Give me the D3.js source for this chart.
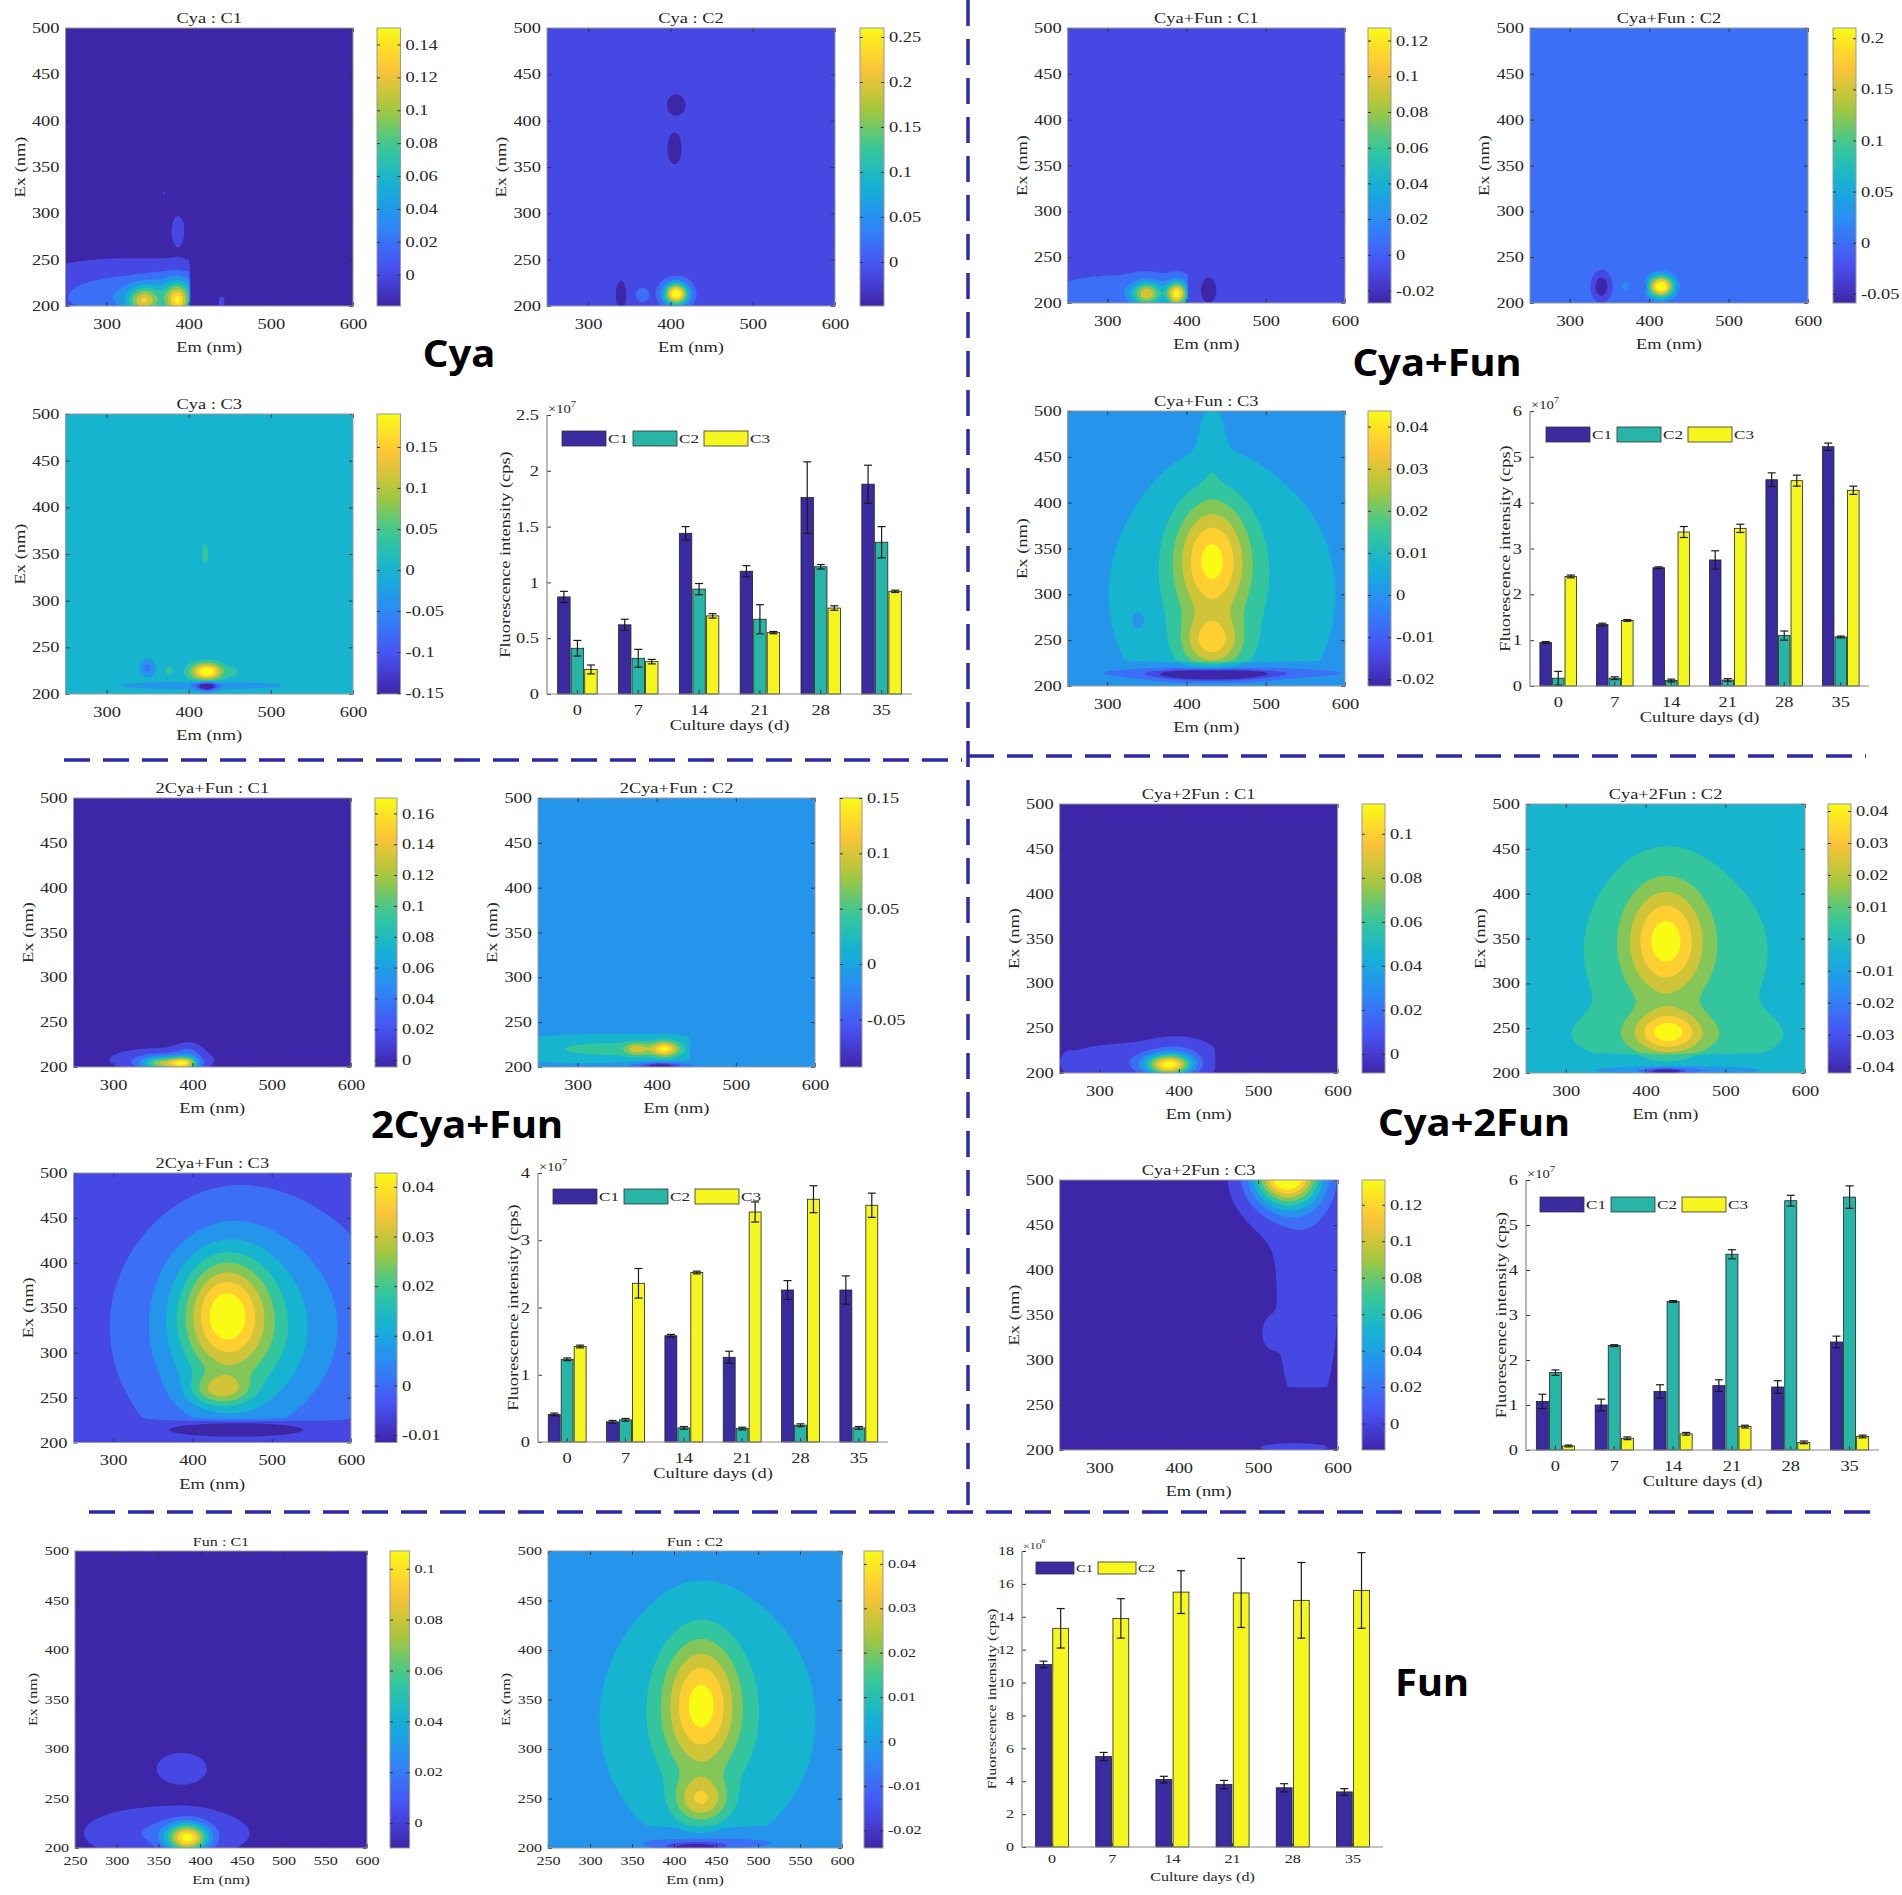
<!DOCTYPE html>
<html lang="en">
<head>
<meta charset="UTF-8">
<title>EEM components and fluorescence intensity</title>
<script src="https://cdn.jsdelivr.net/npm/d3@7/dist/d3.min.js"></script>
<style>
    body { margin: 0; background: #fff; }
    svg text { font-family: "Liberation Serif", "Times New Roman", serif; fill: #262626; }
    svg text.group-label { font-family: "Noto Sans", "Open Sans", sans-serif; font-weight: 700; fill: #000; }
</style>
</head>
<body>
<script>
    const [width, height] = [1902, 1895]

    // parula colour map (MATLAB), 8 stops
    const parulaStops = ['#3e26a8', '#4852f4', '#2e87f7', '#12b1d6', '#37c897', '#abc739', '#fec338', '#f9fb15']

    // ---- EEM maps: colour-bar limits, flat background level, colour-bar ticks, peaks
    // peak = [Em, Ex, amplitude, sigmaEm, sigmaEx, EmMax, ExMin]
    const cyaC1Lim = [-0.019, 0.150], cyaC1Base = -0.01
    const cyaC1Ticks = [0, 0.02, 0.04, 0.06, 0.08, 0.1, 0.12, 0.14]
    const cyaC1Peaks = [[320, 210, 0.035, 80, 24, 400], [360, 208, 0.03, 30, 12, 400], [390, 225, 0.02, 25, 12, 400],
        [345, 205, 0.07, 12, 10, 400], [387, 205, 0.1, 10, 12, 400], [387, 282, 0.014, 7, 14], [370, 322, 0.01, 2, 4],
        [440, 205, 0.012, 4, 6]]

    const cyaC2Lim = [-0.049, 0.26], cyaC2Base = 0
    const cyaC2Ticks = [0, 0.05, 0.1, 0.15, 0.2, 0.25]
    const cyaC2Peaks = [[407, 213, 0.27, 10, 8], [366, 212, 0.03, 6, 6], [340, 212, -0.06, 4, 10],
        [405, 370, -0.05, 6, 12], [407, 417, -0.05, 8, 8]]

    const cyaC3Lim = [-0.151, 0.19], cyaC3Base = 0
    const cyaC3Ticks = [-0.15, -0.1, -0.05, 0, 0.05, 0.1, 0.15]
    const cyaC3Peaks = [[422, 224, 0.2, 13, 6], [350, 228, -0.06, 6, 6], [376, 225, 0.035, 4, 4], [455, 224, 0.03, 4, 4],
        [415, 209, -0.05, 65, 2.5], [422, 208, -0.16, 8, 3], [420, 350, 0.05, 2.5, 8]]

    const cyaFunC1Lim = [-0.027, 0.127], cyaFunC1Base = 0
    const cyaFunC1Ticks = [-0.02, 0, 0.02, 0.04, 0.06, 0.08, 0.1, 0.12]
    const cyaFunC1Peaks = [[320, 212, 0.012, 60, 12, 402], [350, 210, 0.085, 13, 9, 402], [388, 210, 0.115, 9, 9, 402],
        [428, 214, -0.03, 7, 10]]

    const cyaFunC2Lim = [-0.059, 0.21], cyaFunC2Base = 0
    const cyaFunC2Ticks = [-0.05, 0, 0.05, 0.1, 0.15, 0.2]
    const cyaFunC2Peaks = [[415, 218, 0.22, 11, 8], [340, 218, -0.07, 6, 8], [370, 218, 0.03, 4, 6], [395, 218, -0.04, 2, 3]]

    const cyaFunC3Lim = [-0.0216, 0.0437], cyaFunC3Base = 0
    const cyaFunC3Ticks = [-0.02, -0.01, 0, 0.01, 0.02, 0.03, 0.04]
    const cyaFunC3Peaks = [[445, 300, 0.0105, 110, 110, 999, 226], [432, 338, 0.03, 32, 45], [432, 247, 0.022, 26, 20],
        [432, 470, 0.006, 10, 30], [432, 212, -0.035, 40, 4], [445, 214, -0.012, 80, 3], [340, 272, -0.006, 5, 6]]

    const twoCyaFunC1Lim = [-0.0045, 0.17], twoCyaFunC1Base = 0
    const twoCyaFunC1Ticks = [0, 0.02, 0.04, 0.06, 0.08, 0.1, 0.12, 0.14, 0.16]
    const twoCyaFunC1Peaks = [[360, 208, 0.03, 50, 10], [395, 218, 0.02, 12, 8], [362, 204, 0.09, 18, 5], [390, 204, 0.11, 12, 5]]

    const twoCyaFunC2Lim = [-0.093, 0.15], twoCyaFunC2Base = 0
    const twoCyaFunC2Ticks = [-0.05, 0, 0.05, 0.1, 0.15]
    const twoCyaFunC2Peaks = [[345, 220, 0.04, 75, 8, 440], [375, 220, 0.06, 10, 5], [410, 220, 0.11, 12, 6],
        [405, 201, -0.07, 18, 2.5], [405, 201, -0.03, 40, 2.5]]

    const twoCyaFunC3Lim = [-0.0115, 0.0428], twoCyaFunC3Base = -0.004
    const twoCyaFunC3Ticks = [-0.01, 0, 0.01, 0.02, 0.03, 0.04]
    const twoCyaFunC3Peaks = [[475, 330, 0.013, 105, 85, 999, 225], [455, 320, 0.011, 60, 75, 999, 226], [440, 345, 0.024, 36, 42],
        [435, 258, 0.016, 26, 12], [455, 214, -0.02, 40, 3.5]]

    const cya2FunC1Lim = [-0.0086, 0.1135], cya2FunC1Base = 0
    const cya2FunC1Ticks = [0, 0.02, 0.04, 0.06, 0.08, 0.1]
    const cya2FunC1Peaks = [[345, 213, 0.012, 60, 13, 447], [388, 209, 0.1, 20, 8], [262, 210, 0.008, 4, 7], [400, 225, 0.01, 25, 10, 447]]

    const cya2FunC2Lim = [-0.042, 0.0422], cya2FunC2Base = -0.004
    const cya2FunC2Ticks = [-0.04, -0.03, -0.02, -0.01, 0, 0.01, 0.02, 0.03, 0.04]
    const cya2FunC2Peaks = [[440, 335, 0.009, 90, 75, 999, 222], [440, 240, 0.008, 90, 20, 999, 222], [425, 348, 0.034, 33, 42],
        [428, 245, 0.03, 28, 16], [440, 203, -0.016, 65, 3], [425, 201, -0.035, 15, 2.5]]

    const cya2FunC3Lim = [-0.0145, 0.1336], cya2FunC3Base = -0.006
    const cya2FunC3Ticks = [0, 0.02, 0.04, 0.06, 0.08, 0.1, 0.12]
    const cya2FunC3Peaks = [[535, 508, 0.135, 28, 24], [545, 495, 0.02, 40, 35], [562, 380, 0.013, 32, 120, 999, 268],
        [545, 203, 0.012, 38, 4], [515, 330, 0.008, 8, 12]]

    const funC1Lim = [-0.0098, 0.107], funC1Base = 0
    const funC1Ticks = [0, 0.02, 0.04, 0.06, 0.08, 0.1]
    const funC1Peaks = [[378, 280, 0.009, 17, 9], [360, 215, 0.016, 48, 13], [385, 210, 0.09, 17, 10]]

    const funC2Lim = [-0.024, 0.0429], funC2Base = 0
    const funC2Ticks = [-0.02, -0.01, 0, 0.01, 0.02, 0.03, 0.04]
    const funC2Peaks = [[440, 330, 0.01, 80, 80, 999, 222], [432, 345, 0.03, 30, 45], [432, 248, 0.022, 22, 16],
        [440, 205, -0.009, 60, 4], [425, 200, -0.025, 22, 3]]

    // ---- bar charts (x10^7 cps, Fun x10^6 cps)
    const days = ['0', '7', '14', '21', '28', '35']
    const cyaMeans = [[0.87, 0.62, 1.44, 1.10, 1.76, 1.88], [0.41, 0.32, 0.94, 0.67, 1.14, 1.36], [0.22, 0.29, 0.70, 0.55, 0.77, 0.92]]
    const cyaErrs = [[0.05, 0.05, 0.06, 0.05, 0.32, 0.17], [0.07, 0.08, 0.05, 0.13, 0.02, 0.14], [0.04, 0.02, 0.02, 0.01, 0.02, 0.01]]
    const cyaFunMeans = [[0.95, 1.34, 2.58, 2.75, 4.50, 5.22], [0.17, 0.17, 0.12, 0.13, 1.10, 1.07], [2.39, 1.43, 3.36, 3.44, 4.48, 4.27]]
    const cyaFunErrs = [[0.02, 0.03, 0.02, 0.20, 0.15, 0.08], [0.15, 0.03, 0.03, 0.03, 0.10, 0.02], [0.03, 0.02, 0.12, 0.09, 0.12, 0.09]]
    const twoCyaFunMeans = [[0.41, 0.30, 1.58, 1.26, 2.26, 2.26], [1.23, 0.33, 0.21, 0.20, 0.25, 0.21], [1.42, 2.36, 2.52, 3.42, 3.61, 3.52]]
    const twoCyaFunErrs = [[0.02, 0.02, 0.02, 0.09, 0.14, 0.21], [0.02, 0.02, 0.02, 0.02, 0.02, 0.02], [0.02, 0.22, 0.02, 0.15, 0.20, 0.18]]
    const cya2FunMeans = [[1.08, 1.00, 1.30, 1.43, 1.40, 2.40], [1.72, 2.32, 3.30, 4.35, 5.54, 5.62], [0.09, 0.26, 0.36, 0.52, 0.17, 0.30]]
    const cya2FunErrs = [[0.16, 0.13, 0.15, 0.13, 0.14, 0.13], [0.06, 0.02, 0.02, 0.10, 0.12, 0.25], [0.02, 0.03, 0.03, 0.03, 0.03, 0.03]]
    const funMeans = [[11.1, 5.5, 4.1, 3.8, 3.6, 3.35], [13.3, 13.9, 15.5, 15.45, 15.0, 15.6]]
    const funErrs = [[0.2, 0.25, 0.2, 0.25, 0.25, 0.2], [1.2, 1.2, 1.3, 2.1, 2.3, 2.3]]

    const barColors = { C1: '#3b2ba0', C2: '#26b5a7', C3: '#f5f61e' }

    const svg = d3.select('body').append('svg').attr('width', width).attr('height', height)
    const defs = svg.append('defs')
    const parula = d3.piecewise(d3.interpolateRgb, parulaStops)
    const clamp = (v, a, b) => Math.max(a, Math.min(b, v))

    // the figure's serif text is wide: stretch it along the reading direction
    const font = small => small ? { fs: 11.5, k: 1.4 } : { fs: 14.5, k: 1.27 }
    const label = (x, y, str, f, { anchor = 'middle', rotate = 0 } = {}) =>
        svg.append('text').attr('transform', `translate(${x},${y}) rotate(${rotate}) scale(${f.k},1)`)
            .attr('text-anchor', anchor).style('font-size', f.fs + 'px').text(str)

    const grad = defs.append('linearGradient').attr('id', 'parula-grad')
        .attr('x1', 0).attr('y1', 1).attr('x2', 0).attr('y2', 0)
    d3.range(0, 1.0001, 0.05).forEach(t => grad.append('stop').attr('offset', t).attr('stop-color', parula(t)))

    const gridStep = 2.5
    const emGrid = d3.range(250, 600.001, gridStep)
    const exGrid = d3.range(200, 500.001, gridStep)
    const field = (base, peaks) => {
        const values = new Float64Array(emGrid.length * exGrid.length)
        exGrid.forEach((ex, j) => emGrid.forEach((em, i) => {
            let z = base
            peaks.forEach(([pe, px, a, se, sx, emMax = Infinity, exMin = -Infinity]) => {
                if (em > emMax || ex < exMin) return
                const u = (em - pe) / se, v = (ex - px) / sx
                z += a * Math.exp(-(u * u + v * v) / 2)
            })
            values[j * emGrid.length + i] = z
        }))
        return values
    }

    const styleAxis = (g, f) => {
        g.attr('font-family', null).attr('font-size', null)
        g.selectAll('text').style('font-size', f.fs + 'px').attr('transform', `scale(${f.k},1)`)
        g.selectAll('line').attr('stroke', '#333')
        g.select('.domain').remove()
    }

    const drawMap = (m, idx) => {
        const [bx, by, bw, bh] = m.box
        const [cx, cw] = m.cbar
        const f = font(m.small)
        const x = d3.scaleLinear().domain([250, 600]).range([bx, bx + bw])
        const y = d3.scaleLinear().domain([200, 500]).range([by + bh, by])
        const [lo, hi] = m.lim
        const nBands = 10
        const levels = d3.range(1, nBands).map(k => lo + k * (hi - lo) / nBands)
        const contours = d3.contours().size([emGrid.length, exGrid.length]).thresholds(levels)(field(m.base, m.peaks))
        const toPx = ([gx, gy]) => [x(clamp(250 + (gx - 0.5) * gridStep, 250, 600)), y(clamp(200 + (gy - 0.5) * gridStep, 200, 500))]
        const path = d3.geoPath()

        defs.append('clipPath').attr('id', 'clip' + idx).append('rect')
            .attr('x', bx).attr('y', by).attr('width', bw).attr('height', bh)
        const g = svg.append('g').attr('clip-path', `url(#clip${idx})`)
        g.append('rect').attr('x', bx).attr('y', by).attr('width', bw).attr('height', bh).attr('fill', parula(0))
        g.selectAll('path').data(contours).join('path')
            .attr('d', c => path({ type: 'MultiPolygon', coordinates: c.coordinates.map(poly => poly.map(ring => ring.map(toPx))) }))
            .attr('fill', (c, k) => parula((k + 1) / (nBands - 1)))
            .attr('fill-rule', 'evenodd')

        const xTicks = m.small ? d3.range(250, 601, 50) : [300, 400, 500, 600]
        const yTicks = d3.range(200, 501, 50)
        svg.append('g').attr('transform', `translate(0,${by + bh})`)
            .call(d3.axisBottom(x).tickValues(xTicks).tickSizeInner(-4).tickSizeOuter(0).tickPadding(m.small ? 9 : 12.5))
            .call(g => styleAxis(g, f))
        svg.append('g').attr('transform', `translate(${bx},0)`)
            .call(d3.axisLeft(y).tickValues(yTicks).tickSizeInner(-4).tickSizeOuter(0).tickPadding(6 / f.k))
            .call(g => styleAxis(g, f))
        svg.append('g').attr('transform', `translate(0,${by})`)
            .call(d3.axisTop(x).tickValues(xTicks).tickSizeInner(-4).tickSizeOuter(0).tickFormat(''))
            .call(g => styleAxis(g, f))
        svg.append('g').attr('transform', `translate(${bx + bw},0)`)
            .call(d3.axisRight(y).tickValues(yTicks).tickSizeInner(-4).tickSizeOuter(0).tickFormat(''))
            .call(g => styleAxis(g, f))
        svg.append('rect').attr('x', bx).attr('y', by).attr('width', bw).attr('height', bh)
            .attr('fill', 'none').attr('stroke', '#9a9a9a').attr('stroke-width', 1)

        label(bx + bw / 2, by - 5, m.title, f)
        label(bx + bw / 2, by + bh + (m.small ? 36 : 46), 'Em (nm)', f)
        label(bx - (m.small ? 38 : 41), by + bh / 2, 'Ex (nm)', f, { rotate: -90 })

        // colour bar
        const c = d3.scaleLinear().domain(m.lim).range([by + bh, by])
        svg.append('rect').attr('x', cx).attr('y', by).attr('width', cw).attr('height', bh)
            .attr('fill', 'url(#parula-grad)').attr('stroke', '#9a9a9a').attr('stroke-width', 1)
        svg.append('g').attr('transform', `translate(${cx + cw},0)`)
            .call(d3.axisRight(c).tickValues(m.ticks).tickSizeInner(-3).tickSizeOuter(0).tickPadding(5 / f.k).tickFormat(v => `${v}`))
            .call(g => styleAxis(g, f))
        svg.append('g').attr('transform', `translate(${cx},0)`)
            .call(d3.axisLeft(c).tickValues(m.ticks).tickSizeInner(-3).tickSizeOuter(0).tickFormat(''))
            .call(g => styleAxis(g, f))
    }

    const drawBars = (b) => {
        const [bx, by, bw, bh] = b.box
        const f = font(b.small)
        const names = b.means.length === 3 ? ['C1', 'C2', 'C3'] : ['C1', 'C2']
        const fill = b.means.length === 3 ? names.map(n => barColors[n]) : [barColors.C1, barColors.C3]
        const x = d3.scaleBand().domain(days).range([bx, bx + bw]).padding(0)
        const groupW = x.bandwidth() * Math.min(0.8, names.length / (names.length + 1.5))
        const xs = d3.scaleBand().domain(names).range([0, groupW]).padding(0)
        const y = d3.scaleLinear().domain([0, b.ymax]).range([by + bh, by])
        const barW = xs.bandwidth() * 0.92
        const g = svg.append('g')
        names.forEach((n, s) => {
            const cx = d => x(d) + (x.bandwidth() - groupW) / 2 + xs(n) + xs.bandwidth() / 2
            g.selectAll(null).data(days).join('rect')
                .attr('x', d => cx(d) - barW / 2).attr('width', barW)
                .attr('y', (d, i) => y(b.means[s][i])).attr('height', (d, i) => y(0) - y(b.means[s][i]))
                .attr('fill', fill[s]).attr('stroke', '#222').attr('stroke-width', 0.8)
            const eb = g.selectAll(null).data(days).join('g').attr('stroke', '#1a1a1a').attr('stroke-width', 1.2)
            eb.append('line').attr('x1', d => cx(d)).attr('x2', d => cx(d))
                .attr('y1', (d, i) => y(b.means[s][i] - b.errs[s][i])).attr('y2', (d, i) => y(b.means[s][i] + b.errs[s][i]))
            ;[-1, 1].forEach(sg => eb.append('line')
                .attr('x1', d => cx(d) - 4).attr('x2', d => cx(d) + 4)
                .attr('y1', (d, i) => y(b.means[s][i] + sg * b.errs[s][i])).attr('y2', (d, i) => y(b.means[s][i] + sg * b.errs[s][i])))
        })
        svg.append('g').attr('transform', `translate(0,${by + bh})`)
            .call(d3.axisBottom(x).tickSizeInner(-4).tickSizeOuter(0).tickPadding(b.small ? 8 : 10.5))
            .call(g => styleAxis(g, f))
        svg.append('g').attr('transform', `translate(${bx},0)`)
            .call(d3.axisLeft(y).tickValues(b.ticks).tickSizeInner(-4).tickSizeOuter(0).tickPadding(8 / f.k).tickFormat(v => `${v}`))
            .call(g => styleAxis(g, f))
        svg.append('path').attr('d', `M${bx},${by}V${by + bh}H${bx + bw}`)
            .attr('fill', 'none').attr('stroke', '#8a8a8a').attr('stroke-width', 1.2)

        const exp = svg.append('text').attr('transform', `translate(${bx + 1},${by - 2}) scale(${f.k},1)`)
            .style('font-size', (f.fs - 3) + 'px').text('×10')
        exp.append('tspan').attr('dy', -6).style('font-size', (f.fs - 6) + 'px').text(b.exp)

        const maxLabel = d3.max(b.ticks, v => `${v}`.length)
        label(bx - (b.small ? 10 : 12) - maxLabel * (b.small ? 8 : 8.5), by + bh / 2, 'Fluorescence intensity (cps)', f, { rotate: -90 })
        label(bx + bw / 2, by + bh + (b.small ? 34 : 36), 'Culture days (d)', f)

        // legend
        const [sw, sh, step] = b.small ? [38, 12, 62] : [44, 15, 71]
        const lg = svg.append('g').attr('transform', `translate(${bx + b.legend[0]},${by + b.legend[1]})`)
        names.forEach((n, i) => {
            lg.append('rect').attr('x', i * step).attr('y', 0).attr('width', sw).attr('height', sh)
                .attr('fill', fill[i]).attr('stroke', '#333').attr('stroke-width', 0.8)
            lg.append('text').attr('transform', `translate(${i * step + sw + 2},${sh / 2}) scale(${f.k},1)`).attr('dy', '0.35em')
                .style('font-size', (f.fs - 1) + 'px').text(n)
        })
    }

    const maps = [
        { title: 'Cya : C1', lim: cyaC1Lim, base: cyaC1Base, ticks: cyaC1Ticks, peaks: cyaC1Peaks, box: [65.5, 28, 287.5, 278], cbar: [377, 23.5] },
        { title: 'Cya : C2', lim: cyaC2Lim, base: cyaC2Base, ticks: cyaC2Ticks, peaks: cyaC2Peaks, box: [547, 28, 288, 278], cbar: [860, 24] },
        { title: 'Cya : C3', lim: cyaC3Lim, base: cyaC3Base, ticks: cyaC3Ticks, peaks: cyaC3Peaks, box: [65.5, 414, 287.5, 280], cbar: [377, 23.5] },
        { title: 'Cya+Fun : C1', lim: cyaFunC1Lim, base: cyaFunC1Base, ticks: cyaFunC1Ticks, peaks: cyaFunC1Peaks, box: [1067.6, 28, 277.4, 275], cbar: [1368, 23] },
        { title: 'Cya+Fun : C2', lim: cyaFunC2Lim, base: cyaFunC2Base, ticks: cyaFunC2Ticks, peaks: cyaFunC2Peaks, box: [1530, 28, 278, 275], cbar: [1833, 23] },
        { title: 'Cya+Fun : C3', lim: cyaFunC3Lim, base: cyaFunC3Base, ticks: cyaFunC3Ticks, peaks: cyaFunC3Peaks, box: [1067.6, 411, 277.4, 275], cbar: [1368, 23] },
        { title: '2Cya+Fun : C1', lim: twoCyaFunC1Lim, base: twoCyaFunC1Base, ticks: twoCyaFunC1Ticks, peaks: twoCyaFunC1Peaks, box: [73.5, 798, 277.5, 269], cbar: [375, 22] },
        { title: '2Cya+Fun : C2', lim: twoCyaFunC2Lim, base: twoCyaFunC2Base, ticks: twoCyaFunC2Ticks, peaks: twoCyaFunC2Peaks, box: [538, 798, 277, 269], cbar: [840, 22] },
        { title: '2Cya+Fun : C3', lim: twoCyaFunC3Lim, base: twoCyaFunC3Base, ticks: twoCyaFunC3Ticks, peaks: twoCyaFunC3Peaks, box: [73.5, 1173, 277.5, 269.5], cbar: [375, 22] },
        { title: 'Cya+2Fun : C1', lim: cya2FunC1Lim, base: cya2FunC1Base, ticks: cya2FunC1Ticks, peaks: cya2FunC1Peaks, box: [1059.6, 804, 278, 269], cbar: [1362, 23] },
        { title: 'Cya+2Fun : C2', lim: cya2FunC2Lim, base: cya2FunC2Base, ticks: cya2FunC2Ticks, peaks: cya2FunC2Peaks, box: [1526, 804, 279, 269], cbar: [1828, 23] },
        { title: 'Cya+2Fun : C3', lim: cya2FunC3Lim, base: cya2FunC3Base, ticks: cya2FunC3Ticks, peaks: cya2FunC3Peaks, box: [1059.6, 1180, 278, 270], cbar: [1362, 23] },
        { title: 'Fun : C1', lim: funC1Lim, base: funC1Base, ticks: funC1Ticks, peaks: funC1Peaks, box: [75, 1551, 292, 297], cbar: [390, 19.6], small: true },
        { title: 'Fun : C2', lim: funC2Lim, base: funC2Base, ticks: funC2Ticks, peaks: funC2Peaks, box: [548, 1551, 294, 297], cbar: [864, 19], small: true }
    ]
    const bars = [
        { means: cyaMeans, errs: cyaErrs, ymax: 2.5, ticks: [0, 0.5, 1, 1.5, 2, 2.5], exp: '7', box: [547, 415, 365, 279], legend: [15, 16] },
        { means: cyaFunMeans, errs: cyaFunErrs, ymax: 6, ticks: [0, 1, 2, 3, 4, 5, 6], exp: '7', box: [1530, 411, 339, 275], legend: [16, 16] },
        { means: twoCyaFunMeans, errs: twoCyaFunErrs, ymax: 4, ticks: [0, 1, 2, 3, 4], exp: '7', box: [538, 1173, 350, 269], legend: [15, 16] },
        { means: cya2FunMeans, errs: cya2FunErrs, ymax: 6, ticks: [0, 1, 2, 3, 4, 5, 6], exp: '7', box: [1526, 1180, 353, 270], legend: [14, 17] },
        { means: funMeans, errs: funErrs, ymax: 18, ticks: [0, 2, 4, 6, 8, 10, 12, 14, 16, 18], exp: '6', box: [1022, 1551, 361, 296], legend: [14, 11], small: true }
    ]
    const groupLabels = [
        { text: 'Cya', x: 459, y: 354 }, { text: 'Cya+Fun', x: 1437, y: 363 },
        { text: '2Cya+Fun', x: 467, y: 1125 }, { text: 'Cya+2Fun', x: 1474, y: 1123 }, { text: 'Fun', x: 1432, y: 1683 }
    ]

    maps.forEach(drawMap)
    bars.forEach(drawBars)

    svg.selectAll('text.group-label').data(groupLabels).join('text').attr('class', 'group-label')
        .attr('transform', d => `translate(${d.x},${d.y}) scale(1.08,1)`).attr('dy', '0.35em').attr('text-anchor', 'middle')
        .style('font-size', '37px').text(d => d.text)

    // dashed separators
    const dividers = [[968, 0, 968, 1505], [64, 760, 962, 760], [968, 756, 1866, 756], [89, 1512, 1880, 1512]]
    svg.selectAll('line.divider').data(dividers).join('line').attr('class', 'divider')
        .attr('x1', d => d[0]).attr('y1', d => d[1]).attr('x2', d => d[2]).attr('y2', d => d[3])
        .attr('stroke', '#2d2aa8').attr('stroke-width', 3.5).attr('stroke-dasharray', '26,13')
</script>
</body>
</html>
